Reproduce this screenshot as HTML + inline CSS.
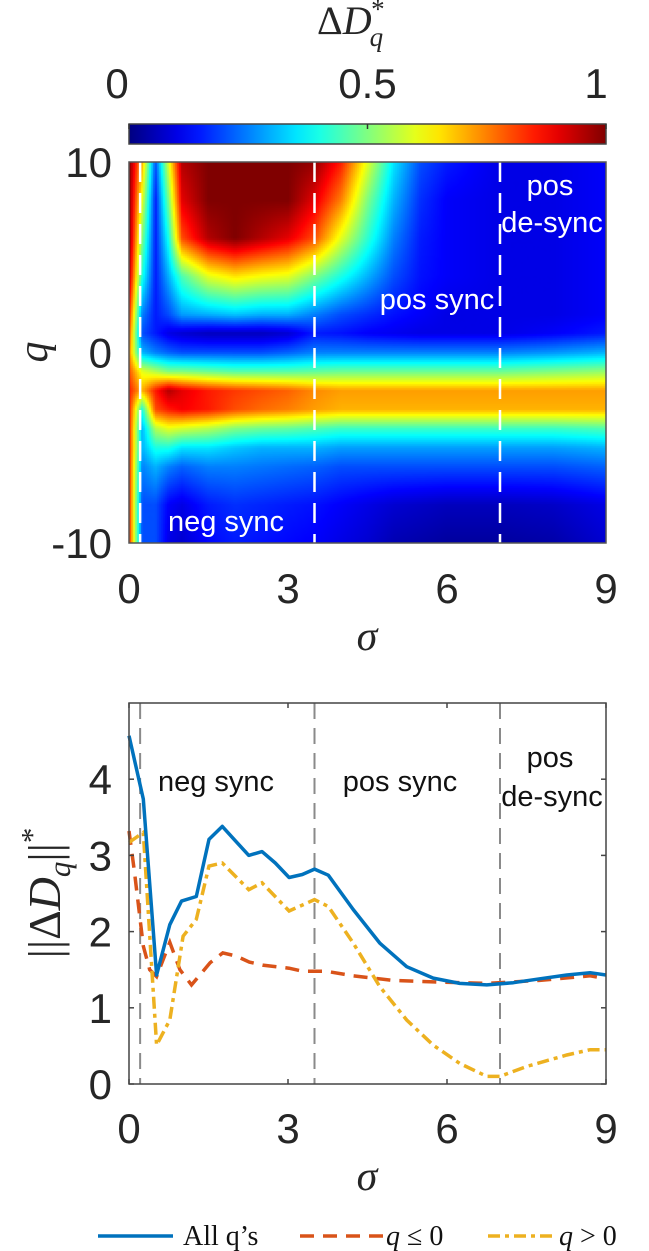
<!DOCTYPE html>
<html><head><meta charset="utf-8">
<style>
html,body{margin:0;padding:0;background:#fff;}
#wrap{position:relative;width:649px;height:1251px;overflow:hidden;}
svg{position:absolute;left:0;top:0;}
#hm{position:absolute;left:129px;top:162px;}
</style></head>
<body>
<div id="wrap">
<canvas id="hm" width="477" height="381"></canvas>
<svg id="s" width="649" height="1251"></svg>
</div>
<script>
// ---------- heatmap data ----------
const hmSigma = [0,0.25,0.5,0.75,1,1.5,2,2.5,3,3.5,4,4.5,5,5.5,6,7,8,9];
const hmQ = [10,8,6,4,2,1,0,-1,-2,-3,-4,-5,-6,-8,-10];
const hmValues = [
[1,0.7,0.2,0.6,0.95,1,1,1,1,0.98,0.85,0.6,0.35,0.2,0.15,0.1,0.1,0.12],
[1,0.6,0.15,0.5,0.9,1,1,1,1,0.9,0.75,0.5,0.3,0.17,0.12,0.1,0.1,0.12],
[1,0.5,0.15,0.4,0.8,0.95,1,0.95,0.9,0.8,0.6,0.42,0.25,0.15,0.12,0.1,0.1,0.12],
[0.95,0.4,0.15,0.3,0.45,0.6,0.65,0.62,0.6,0.5,0.4,0.3,0.2,0.14,0.12,0.1,0.1,0.12],
[0.85,0.25,0.15,0.2,0.28,0.3,0.32,0.3,0.3,0.25,0.2,0.17,0.14,0.12,0.1,0.1,0.1,0.12],
[0.8,0.2,0.15,0.1,0.08,0.06,0.06,0.06,0.08,0.15,0.14,0.12,0.11,0.1,0.1,0.1,0.12,0.15],
[0.75,0.3,0.25,0.22,0.2,0.2,0.2,0.2,0.22,0.25,0.25,0.25,0.25,0.25,0.25,0.25,0.27,0.3],
[0.8,0.6,0.55,0.5,0.5,0.48,0.46,0.46,0.46,0.47,0.48,0.48,0.48,0.48,0.48,0.48,0.5,0.52],
[0.85,0.7,0.85,0.95,0.9,0.85,0.82,0.8,0.78,0.74,0.72,0.72,0.72,0.72,0.72,0.72,0.72,0.72],
[0.85,0.4,0.8,0.85,0.88,0.85,0.8,0.77,0.75,0.72,0.7,0.7,0.7,0.7,0.7,0.7,0.7,0.7],
[0.85,0.3,0.55,0.6,0.58,0.55,0.5,0.48,0.47,0.45,0.43,0.43,0.43,0.43,0.43,0.43,0.43,0.45],
[0.85,0.3,0.4,0.4,0.35,0.35,0.32,0.3,0.3,0.3,0.28,0.28,0.28,0.28,0.28,0.28,0.28,0.3],
[0.85,0.25,0.3,0.25,0.22,0.25,0.25,0.24,0.23,0.22,0.2,0.2,0.2,0.2,0.2,0.2,0.2,0.22],
[0.85,0.2,0.2,0.12,0.1,0.15,0.17,0.16,0.15,0.14,0.12,0.1,0.08,0.07,0.06,0.06,0.07,0.1],
[0.85,0.2,0.2,0.1,0.08,0.13,0.15,0.14,0.13,0.12,0.1,0.08,0.05,0.04,0.03,0.03,0.04,0.08]
];
const regionSigma = [0.21,3.5,7];
const cbTicks = [0,0.5,1];
const cbTickLabels = ["0","0.5","1"];
const hmQTicks = [10,0,-10];
const xTicks = [0,3,6,9];
// ---------- line data ----------
const allSigma = [0,0.27,0.52,0.77,0.99,1.27,1.51,1.76,2.01,2.26,2.51,2.76,3.02,3.27,3.5,3.76,4.23,4.73,5.24,5.74,6.24,6.75,7.25,7.75,8.26,8.7,9];
const allValues = [4.57,3.74,1.43,2.09,2.4,2.46,3.21,3.38,3.19,3.0,3.05,2.9,2.71,2.75,2.82,2.74,2.29,1.85,1.54,1.39,1.32,1.3,1.33,1.38,1.43,1.46,1.43];
const negSigma = [0,0.1,0.27,0.39,0.52,0.77,0.96,1.18,1.53,1.77,2.02,2.27,2.52,3.02,3.27,3.71,4.23,4.98,5.74,6.75,7.75,8.7,9];
const negValues = [3.32,2.8,1.81,1.5,1.41,1.86,1.5,1.3,1.59,1.72,1.68,1.6,1.56,1.52,1.48,1.48,1.42,1.36,1.34,1.32,1.36,1.42,1.38];
const posSigma = [0,0.27,0.52,0.77,1.02,1.27,1.51,1.76,2.26,2.51,3.02,3.5,3.76,4.23,4.73,5.24,5.74,6.24,6.75,7,7.5,8.26,8.7,9];
const posValues = [3.17,3.3,0.51,0.84,1.94,2.16,2.86,2.9,2.55,2.64,2.27,2.42,2.33,1.85,1.28,0.84,0.51,0.27,0.1,0.1,0.23,0.38,0.45,0.45];
const yTicks = [0,1,2,3,4];

const NS="http://www.w3.org/2000/svg";
const svg=document.getElementById('s');
function el(tag,attrs,parent,txt){const e=document.createElementNS(NS,tag);for(const k in attrs)e.setAttribute(k,attrs[k]);if(txt!==undefined)e.textContent=txt;(parent||svg).appendChild(e);return e;}

function jet(v){v=Math.max(0,Math.min(1,v));
 const r=Math.max(0,Math.min(1,1.5-Math.abs(4*v-3)));
 const g=Math.max(0,Math.min(1,1.5-Math.abs(4*v-2)));
 const b=Math.max(0,Math.min(1,1.5-Math.abs(4*v-1)));
 return 'rgb('+Math.round(r*255)+','+Math.round(g*255)+','+Math.round(b*255)+')';}

const L=129,R=606,HT=162,HB=543;
const sx=s=>L+(s/9)*(R-L);
const hq=q=>HT+(10-q)/20*(HB-HT);
const BT=703,BB=1084;
const by=v=>BB-(v/5)*(BB-BT);

function interp1(arr,v){
 const inc=arr[arr.length-1]>arr[0];
 for(let i=0;i<arr.length-1;i++){const a=arr[i],b=arr[i+1];
  if((inc&&v>=a&&v<=b)||(!inc&&v<=a&&v>=b))return [i,(v-a)/(b-a)];}
 return [arr.length-2,1];}
const ctx=document.getElementById('hm').getContext('2d');
const cw=2;
for(let px=0;px<477;px+=cw){
 const s=(px+cw/2)/477*9; const [i,fx]=interp1(hmSigma,s);
 for(let py=0;py<381;py+=cw){
  const q=10-(py+cw/2)/381*20; const [j,fy]=interp1(hmQ,q);
  const v=(1-fx)*(1-fy)*hmValues[j][i]+fx*(1-fy)*hmValues[j][i+1]+(1-fx)*fy*hmValues[j+1][i]+fx*fy*hmValues[j+1][i+1];
  ctx.fillStyle=jet(v); ctx.fillRect(px,py,cw,cw);
 }}

regionSigma.forEach(s=>{
 const l=el('line',{x1:sx(s),x2:sx(s),y1:HT,y2:HB,stroke:'#fff','stroke-width':2.5,'stroke-dasharray':'20 11'});
 
 
});
el('rect',{x:L,y:HT,width:R-L,height:HB-HT,fill:'none',stroke:'#555','stroke-width':1.5,});

const defs=el('defs',{});
const grad=el('linearGradient',{id:'jetg',x1:0,x2:1,y1:0,y2:0},defs);
for(let k=0;k<=20;k++){el('stop',{offset:k/20,'stop-color':jet(k/20)},grad);}
el('rect',{x:L,y:124,width:R-L,height:20,fill:'url(#jetg)',stroke:'#444','stroke-width':1.5,});
cbTicks.forEach((t,i)=>{
 const x=L+t*(R-L);
 const tk=el('line',{x1:x,x2:x,y1:124,y2:129,stroke:'#333','stroke-width':1.5});
 
 
 const lx = i===0?117:(i===2?596:x);
 const tl=el('text',{x:lx,y:98,'text-anchor':'middle','font-family':'Liberation Sans, sans-serif','font-size':42,fill:'#262626'},svg,cbTickLabels[i]);
 
 
});
const ct=el('text',{x:317,y:34,'font-family':'Liberation Serif, serif','font-size':40,fill:'#262626',});
el('tspan',{},ct,'Δ');el('tspan',{'font-style':'italic'},ct,'D');
el('tspan',{'font-style':'italic','font-size':27,dy:12,dx:-2},ct,'q');
el('tspan',{'font-size':27,dy:-28,dx:-12},ct,'*');

hmQTicks.forEach(q=>{
 const t=el('text',{x:112,y:hq(q)+15,'text-anchor':'end','font-family':'Liberation Sans, sans-serif','font-size':42,fill:'#262626'},svg,String(q));
 
 
});
xTicks.forEach(s=>{
 const t=el('text',{x:sx(s),y:603,'text-anchor':'middle','font-family':'Liberation Sans, sans-serif','font-size':42,fill:'#262626'},svg,String(s));
 
 
});
el('text',{x:367,y:650,'text-anchor':'middle','font-family':'Liberation Serif, serif','font-style':'italic','font-size':42,fill:'#262626',},svg,'σ');
el('text',{x:0,y:0,transform:'translate(47,352) rotate(-90)','text-anchor':'middle','font-family':'Liberation Serif, serif','font-style':'italic','font-size':42,fill:'#262626',},svg,'q');
const wt={fill:'#fff','font-family':'Liberation Sans, sans-serif','font-size':29,'text-anchor':'middle'};
el('text',Object.assign({x:550,y:195,},wt),svg,'pos');
el('text',Object.assign({x:552,y:232,},wt),svg,'de-sync');
el('text',Object.assign({x:437,y:309,},wt),svg,'pos sync');
el('text',Object.assign({x:226,y:531,},wt),svg,'neg sync');

regionSigma.forEach(s=>{
 const l=el('line',{x1:sx(s),x2:sx(s),y1:BT,y2:BB,stroke:'#8a8a8a','stroke-width':2,'stroke-dasharray':'16 9'});
 
 
});
function path(xs,ys){return xs.map((s,i)=>(i?'L':'M')+sx(s).toFixed(1)+','+by(ys[i]).toFixed(1)).join('');}
const pn=el('path',{d:path(negSigma,negValues),fill:'none',stroke:'#D95319','stroke-width':3.5,'stroke-dasharray':'14 9'});


const pp=el('path',{d:path(posSigma,posValues),fill:'none',stroke:'#EDB120','stroke-width':3.5,'stroke-dasharray':'12 5 4 5'});


const pa=el('path',{d:path(allSigma,allValues),fill:'none',stroke:'#0072BD','stroke-width':3.5,'stroke-linejoin':'round'});


el('rect',{x:L,y:BT,width:R-L,height:BB-BT,fill:'none',stroke:'#444','stroke-width':1.5,});
xTicks.forEach(s=>{
 const a=el('line',{x1:sx(s),x2:sx(s),y1:BB,y2:BB-5,stroke:'#444','stroke-width':1.5});
 
 
 const b=el('line',{x1:sx(s),x2:sx(s),y1:BT,y2:BT+5,stroke:'#444','stroke-width':1.5});
 
 
 const t=el('text',{x:sx(s),y:1143,'text-anchor':'middle','font-family':'Liberation Sans, sans-serif','font-size':42,fill:'#262626'},svg,String(s));
 
 
});
yTicks.forEach(v=>{
 const a=el('line',{x1:L,x2:L+5,y1:by(v),y2:by(v),stroke:'#444','stroke-width':1.5});
 
 
 const b=el('line',{x1:R,x2:R-5,y1:by(v),y2:by(v),stroke:'#444','stroke-width':1.5});
 
 
 const t=el('text',{x:112,y:by(v)+15,'text-anchor':'end','font-family':'Liberation Sans, sans-serif','font-size':42,fill:'#262626'},svg,String(v));
 
 
});
el('text',{x:367,y:1190,'text-anchor':'middle','font-family':'Liberation Serif, serif','font-style':'italic','font-size':42,fill:'#262626',},svg,'σ');
const yl=el('text',{x:0,y:0,transform:'translate(60,893) rotate(-90)','text-anchor':'middle','font-family':'Liberation Serif, serif','font-size':46,fill:'#262626',});
el('tspan',{},yl,'||Δ');el('tspan',{'font-style':'italic'},yl,'D');
el('tspan',{'font-style':'italic','font-size':31,dy:10},yl,'q');
el('tspan',{dy:-10},yl,'||');el('tspan',{'font-size':31,dy:-18},yl,'*');
const bt={fill:'#111','font-family':'Liberation Sans, sans-serif','font-size':29,'text-anchor':'middle'};
el('text',Object.assign({x:216,y:791,},bt),svg,'neg sync');
el('text',Object.assign({x:400,y:791,},bt),svg,'pos sync');
el('text',Object.assign({x:550,y:767,},bt),svg,'pos');
el('text',Object.assign({x:552,y:806,},bt),svg,'de-sync');

const lg=el('g',{});
el('line',{x1:98,x2:173,y1:1236,y2:1236,stroke:'#0072BD','stroke-width':3.5,},lg);
el('text',{x:183,y:1245,'font-family':'Liberation Serif, serif','font-size':28,fill:'#111',},lg,'All q’s');
el('line',{x1:300,x2:383,y1:1236,y2:1236,stroke:'#D95319','stroke-width':3.5,'stroke-dasharray':'14 9',},lg);
el('text',{x:386,y:1245,'font-family':'Liberation Serif, serif','font-size':28,fill:'#111',},lg,'').innerHTML='<tspan font-style="italic">q</tspan> ≤ 0';
el('line',{x1:488,x2:552,y1:1236,y2:1236,stroke:'#EDB120','stroke-width':3.5,'stroke-dasharray':'12 5 4 5',},lg);
el('text',{x:559,y:1245,'font-family':'Liberation Serif, serif','font-size':28,fill:'#111',},lg,'').innerHTML='<tspan font-style="italic">q</tspan> &gt; 0';
</script>
</body></html>
